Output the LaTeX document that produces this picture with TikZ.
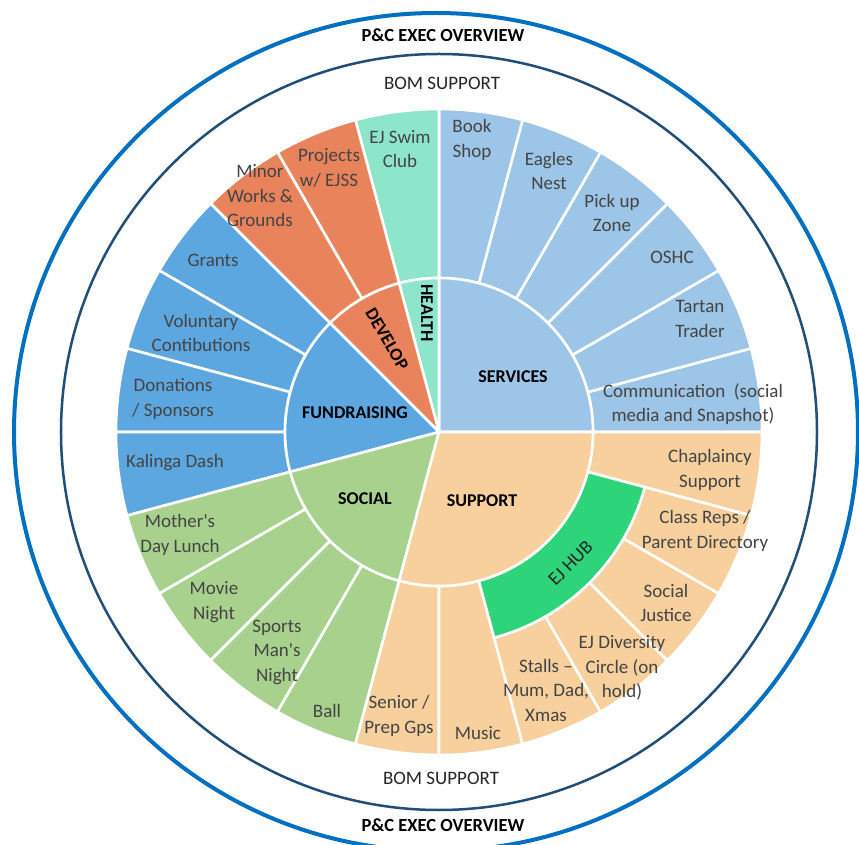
\documentclass[tikz,border=0pt]{standalone}
\usepackage{fontspec}
\setmainfont{Carlito}
\definecolor{svc}{RGB}{157,197,232}
\definecolor{hlth}{RGB}{141,230,202}
\definecolor{dev}{RGB}{233,131,91}
\definecolor{fund}{RGB}{93,167,225}
\definecolor{soc}{RGB}{169,209,142}
\definecolor{sup}{RGB}{247,208,158}
\definecolor{hub}{RGB}{45,212,122}
\definecolor{txtgray}{RGB}{68,68,68}
\definecolor{outerblue}{RGB}{0,112,192}
\definecolor{navyring}{RGB}{31,78,121}
\newcommand{\pieseg}[4]{\fill[#1, draw=white, line width=2.6pt] (0,0) -- (#2:#4) arc[start angle=#2, end angle=#3, radius=#4] -- cycle;}
\newcommand{\ringseg}[5]{\fill[#1, draw=white, line width=2.6pt] (#2:#4) arc[start angle=#2, end angle=#3, radius=#4] -- (#3:#5) arc[start angle=#3, end angle=#2, radius=#5] -- cycle;}
\tikzset{
  lbl/.style={align=center, text=txtgray, inner sep=0pt, font=\fontsize{19}{24.5}\selectfont},
  cat/.style={align=center, text=black, inner sep=0pt, font=\bfseries\fontsize{18}{22}\selectfont},
  ring/.style={align=center, text=black!85, inner sep=0pt, font=\fontsize{19}{23}\selectfont},
  title/.style={align=center, text=black, inner sep=0pt, font=\bfseries\fontsize{18.5}{22}\selectfont}
}
\begin{document}
\begin{tikzpicture}[x=1pt,y=1pt]
\useasboundingbox (-439,-413) rectangle (420,432);
\fill[white] (-439,-413) rectangle (420,432);
\begin{scope}
\clip (-439,-413) rectangle (420,432);
\draw[outerblue, line width=4pt] (-3,0) ellipse [x radius=422, y radius=419];
\end{scope}
\draw[navyring, line width=2.5pt] (0,0) circle [radius=378];
% outer ring
\foreach \a in {0,15,...,75} {\ringseg{svc}{\a}{\a+15}{154}{323}}
\ringseg{hlth}{90}{105}{154}{323}
\foreach \a in {105,120} {\ringseg{dev}{\a}{\a+15}{154}{323}}
\foreach \a in {135,150,...,180} {\ringseg{fund}{\a}{\a+15}{154}{323}}
\foreach \a in {195,210,...,240} {\ringseg{soc}{\a}{\a+15}{154}{323}}
\foreach \a in {255,270,345} {\ringseg{sup}{\a}{\a+15}{154}{323}}
\foreach \a in {285,300,...,330} {\ringseg{sup}{\a}{\a+15}{213}{323}}
\ringseg{hub}{285}{345}{154}{213}
% hub
\pieseg{svc}{0}{90}{154}
\pieseg{hlth}{90}{105}{154}
\pieseg{dev}{105}{135}{154}
\pieseg{fund}{135}{195}{154}
\pieseg{soc}{195}{255}{154}
\pieseg{sup}{255}{360}{154}
% category labels
\node[cat] (services) at (74,55) {SERVICES};
\node[cat, rotate=-90] (health) at (-12,119) {HEALTH};
\node[cat, rotate=-60] (develop) at (-52,93) {DEVELOP};
\node[cat] (fundraising) at (-84,19) {FUNDRAISING};
\node[cat] (social) at (-74,-67) {SOCIAL};
\node[cat] (support) at (43,-69) {SUPPORT};
\node[ring, rotate=45] (ejhub) at (-45:186) {EJ HUB};
% services
\node[lbl] (bookshop) at (33,292) {Book\\Shop};
\node[lbl] (eagles) at (110,261) {Eagles\\Nest};
\node[lbl] (pickup) at (173,219) {Pick up\\Zone};
\node[lbl] (oshc) at (233,175) {OSHC};
\node[lbl] (tartan) at (261,113) {Tartan\\Trader};
\node[lbl] (comm) at (254,28) {Communication\ \ (social\\media and Snapshot)};
% health / develop
\node[lbl] (swim) at (-39,283) {EJ Swim\\Club};
\node[lbl] (projects) at (-110,264) {Projects\\w/ EJSS};
\node[lbl] (minor) at (-179,236) {Minor\\Works \&\\Grounds};
% fundraising
\node[lbl] (grants) at (-226,172) {Grants};
\node[lbl] (voluntary) at (-238,99) {Voluntary\\Contibutions};
\node[lbl] (donations) at (-266,33) {Donations\\/ Sponsors};
\node[lbl] (kalinga) at (-264,-31) {Kalinga Dash};
% social
\node[lbl] (mothers) at (-259,-103) {Mother\textquotesingle s\\Day Lunch};
\node[lbl] (movie) at (-225,-170) {Movie\\Night};
\node[lbl] (sports) at (-162,-220) {Sports\\Man\textquotesingle s\\Night};
\node[lbl] (ball) at (-112,-279) {Ball};
% support
\node[lbl] (senior) at (-40,-284) {Senior /\\Prep Gps};
\node[lbl] (music) at (39,-301) {Music};
\node[lbl] (stalls) at (107,-258) {Stalls --\\Mum, Dad,\\Xmas};
\node[lbl] (diversity) at (183,-236) {EJ Diversity\\Circle (on\\hold)};
\node[lbl] (justice) at (227,-171) {Social\\Justice};
\node[lbl] (classreps) at (266,-99) {Class Reps /\\Parent Directory};
\node[lbl] (chaplaincy) at (271,-38) {Chaplaincy\\Support};
% outer texts
\node[ring] (bomtop) at (3,349) {BOM SUPPORT};
\node[ring] (bombot) at (2,-346) {BOM SUPPORT};
\node[title] (pctop) at (4,397) {P\&C EXEC OVERVIEW};
\node[title] (pcbot) at (4,-393) {P\&C EXEC OVERVIEW};
\end{tikzpicture}
\end{document}
